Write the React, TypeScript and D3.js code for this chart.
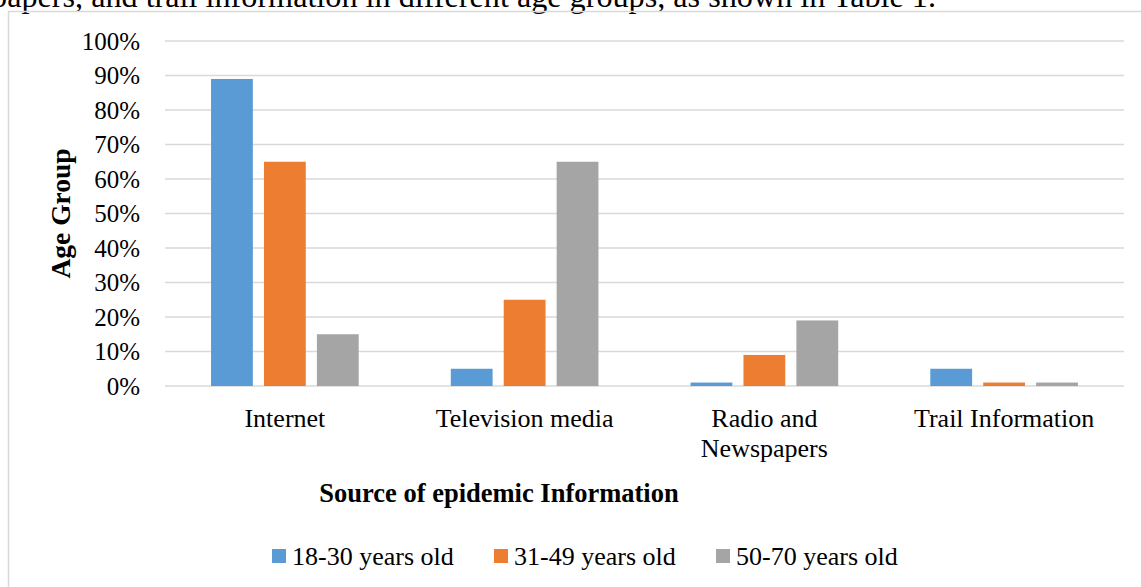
import React from "react";
import * as d3 from "d3";

const categories = ["Internet", "Television media", "Radio and\nNewspapers", "Trail Information"];
const seriesNames = ["18-30 years old", "31-49 years old", "50-70 years old"];
const series18to30 = [0.89, 0.05, 0.01, 0.05];
const series31to49 = [0.65, 0.25, 0.09, 0.01];
const series50to70 = [0.15, 0.65, 0.19, 0.01];
const seriesValues = [series18to30, series31to49, series50to70];
const colors = ["#5b9bd5", "#ed7d31", "#a5a5a5"];
const yTicks = [0, 0.1, 0.2, 0.3, 0.4, 0.5, 0.6, 0.7, 0.8, 0.9, 1.0];

const W = 1141;
const H = 587;
const font = "'Liberation Serif', 'Times New Roman', serif";

export default function App() {
  const x0 = d3.scaleBand<string>().domain(categories).range([165, 1124]).padding(0);
  const x1 = d3
    .scaleBand<string>()
    .domain(seriesNames)
    .range([0, x0.bandwidth()])
    .paddingInner(0.21)
    .paddingOuter(0.87);
  const y = d3.scaleLinear().domain([0, 1]).range([386, 41]);
  const fmt = d3.format(".0%");

  const legendX = [272, 494, 716];

  return (
    <svg
      width={W}
      height={H}
      style={{ position: "absolute", left: 0, top: 0, display: "block", background: "#fff" }}
      fontFamily={font}
    >
      <text x={936} y={7} fontSize={32.2} textAnchor="end" fill="#000">
        newspapers, and trail information in different age groups, as shown in Table 1.
      </text>
      {/* frame */}
      <line x1={8.5} x2={8.5} y1={11} y2={H} stroke="#d9d9d9" strokeWidth={1.5} />
      <line x1={8} x2={W} y1={11.5} y2={11.5} stroke="#d9d9d9" strokeWidth={1.5} />

      {/* gridlines */}
      {yTicks.map((t) => (
        <g key={t}>
          <line x1={165} x2={1124} y1={y(t)} y2={y(t)} stroke="#d9d9d9" strokeWidth={1.5} />
          <text x={140} y={y(t)} dy="0.35em" fontSize={25} textAnchor="end" fill="#000">
            {fmt(t)}
          </text>
        </g>
      ))}

      {/* bars */}
      {categories.map((c, ci) => (
        <g key={c} transform={`translate(${x0(c)},0)`}>
          {seriesNames.map((s, si) => {
            const v = seriesValues[si][ci];
            return (
              <rect
                key={s}
                x={x1(s)}
                y={y(v)}
                width={x1.bandwidth()}
                height={y(0) - y(v)}
                fill={colors[si]}
              />
            );
          })}
        </g>
      ))}

      {/* category labels */}
      {categories.map((c) => {
        const lines = c.split("\n");
        const cx = (x0(c) as number) + x0.bandwidth() / 2;
        return (
          <text key={c} x={cx} y={427} fontSize={26} textAnchor="middle" fill="#000">
            {lines.map((l, i) => (
              <tspan key={i} x={cx} dy={i === 0 ? 0 : 30}>
                {l}
              </tspan>
            ))}
          </text>
        );
      })}

      {/* axis titles */}
      <text x={499} y={502} fontSize={26.5} fontWeight="bold" textAnchor="middle" fill="#000">
        Source of epidemic Information
      </text>
      <text
        transform={`translate(70,${(y(0) + y(1)) / 2}) rotate(-90)`}
        fontSize={27.5}
        fontWeight="bold"
        textAnchor="middle"
        fill="#000"
      >
        Age Group
      </text>

      {/* legend */}
      {seriesNames.map((s, i) => (
        <g key={s}>
          <rect x={legendX[i]} y={549} width={14} height={14} fill={colors[i]} />
          <text x={legendX[i] + 20} y={556} dy="0.35em" fontSize={26} fill="#000">
            {s}
          </text>
        </g>
      ))}
    </svg>
  );
}
